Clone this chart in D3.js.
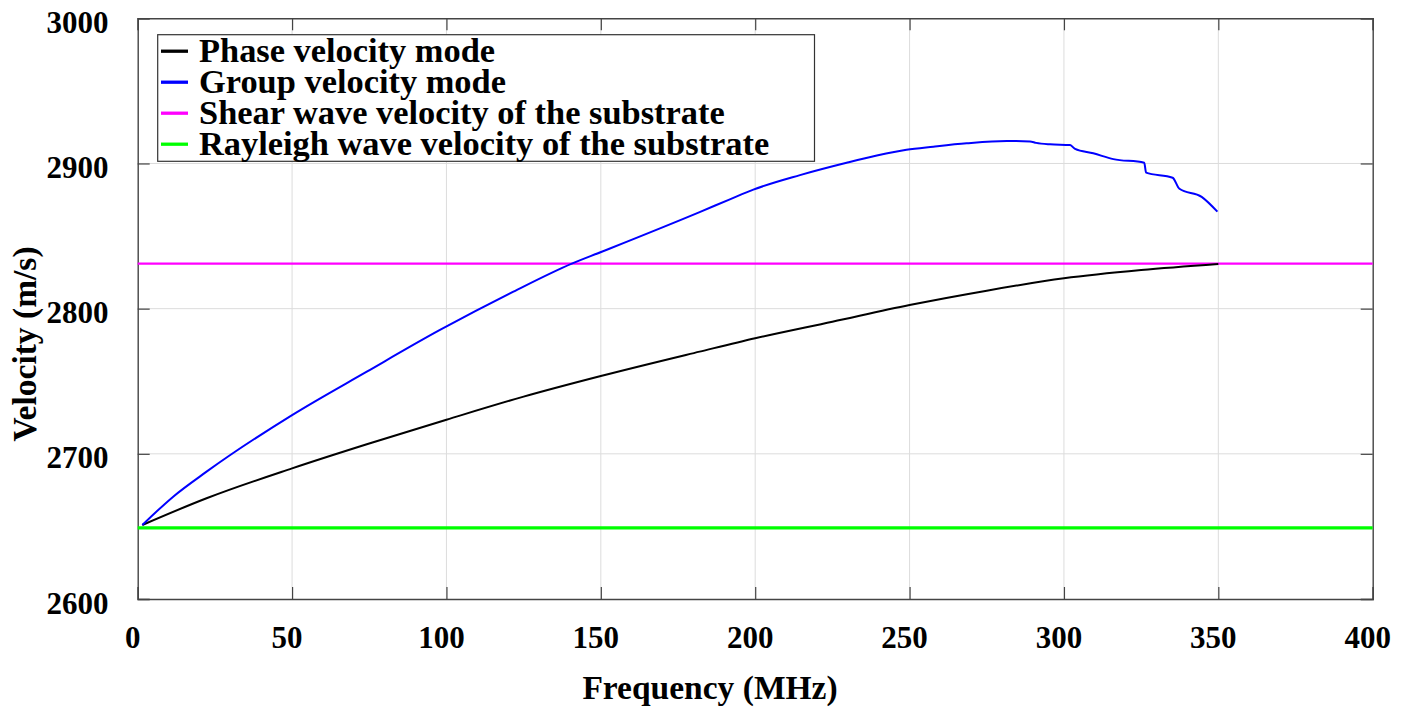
<!DOCTYPE html>
<html>
<head>
<meta charset="utf-8">
<script src="https://cdn.jsdelivr.net/npm/d3@7"></script>
</head>
<body style="margin:0;background:#fff">
<svg id="chart" width="1405" height="707" style="display:block"></svg>
<script>
// ---- data ----
const xTicks = [0, 50, 100, 150, 200, 250, 300, 350, 400];
const yTicks = [2600, 2700, 2800, 2900, 3000];

const phaseFreq = [1.5, 22.3, 50, 74.2, 100, 125, 150, 182, 200, 225, 250, 275, 300, 325, 350];
const phaseVel  = [2651, 2669.4, 2690, 2706.6, 2723.5, 2739.4, 2753.6, 2770.4, 2779.6, 2791, 2802.5, 2812.4, 2820.9, 2826.6, 2830.8];

const groupFreq = [1.5, 11.5, 22.3, 50, 74.2, 97.9, 121.7, 140.6, 150.3, 182, 191.8, 199.4, 214.5, 229.6, 239.4, 249, 257.7, 268.5, 281.5, 289, 291, 295.5, 302, 303.6, 309.5, 316, 326, 326.6, 335.2, 337.4, 344.6, 349.7];
const groupVel  = [2651, 2670.5, 2687.7, 2726.7, 2756.6, 2785.3, 2811.7, 2831, 2839.2, 2866.5, 2875.3, 2882, 2892, 2900.5, 2905.5, 2909.5, 2911.6, 2913.9, 2915.5, 2915.2, 2914.2, 2913.2, 2912.7, 2910, 2907, 2903, 2900.5, 2893.7, 2890.2, 2882.6, 2877, 2866.8];

const shearVel = 2831;
const rayleighVel = 2649;

const legendLabels = ["Phase velocity mode", "Group velocity mode", "Shear wave velocity of the substrate", "Rayleigh wave velocity of the substrate"];
const seriesColors = ["#000000", "#0000ff", "#ff00ff", "#00ff00"];

// ---- layout ----
const L = 137.7, R = 1372.7, T = 18.3, B = 599;
const svg = d3.select("#chart");
const x = d3.scaleLinear().domain([0, 400]).range([L, R]);
const y = d3.scaleLinear().domain([2600, 3000]).range([B, T]);

// grid
const grid = svg.append("g");
grid.selectAll("line.vx").data(xTicks.slice(1, -1)).join("line")
  .attr("x1", d => x(d)).attr("x2", d => x(d)).attr("y1", T).attr("y2", B)
  .attr("stroke", "#dcdcdc").attr("stroke-width", 1);
grid.selectAll("line.hy").data(yTicks.slice(1, -1)).join("line")
  .attr("y1", d => y(d)).attr("y2", d => y(d)).attr("x1", L).attr("x2", R)
  .attr("stroke", "#dcdcdc").attr("stroke-width", 1);

// axes with inward ticks on all sides
const tickLen = 12;
const axisColor = "#444";
const axB = svg.append("g").attr("transform", `translate(0,${B})`)
  .call(d3.axisBottom(x).tickValues(xTicks).tickSize(-tickLen).tickFormat(""));
const axT = svg.append("g").attr("transform", `translate(0,${T})`)
  .call(d3.axisTop(x).tickValues(xTicks).tickSize(-tickLen).tickFormat(""));
const axL = svg.append("g").attr("transform", `translate(${L},0)`)
  .call(d3.axisLeft(y).tickValues(yTicks).tickSize(-tickLen).tickFormat(""));
const axR = svg.append("g").attr("transform", `translate(${R},0)`)
  .call(d3.axisRight(y).tickValues(yTicks).tickSize(-tickLen).tickFormat(""));
[axB, axT, axL, axR].forEach(a => {
  a.selectAll("path").attr("stroke", axisColor).attr("stroke-width", 1.4);
  a.selectAll("line").attr("stroke", axisColor).attr("stroke-width", 1.2);
  a.selectAll("text").remove();
  a.attr("font-family", null).attr("font-size", null);
});

function serif(sel) {
  return sel.attr("font-family", "'Liberation Serif'").attr("font-weight", "bold")
    .style("font-family", "'Liberation Serif'").style("font-weight", "bold").attr("fill", "#000");
}

// tick labels
svg.selectAll("text.xt").data(xTicks).join("text").attr("class", "xt")
  .call(serif)
  .attr("x", d => x(d) - 5).attr("y", B + 49)
  .attr("text-anchor", "middle").attr("font-size", 31)
  .text(d => d);
svg.selectAll("text.yt").data(yTicks).join("text").attr("class", "yt")
  .call(serif)
  .attr("x", 108.5).attr("y", d => y(d) + 14.5)
  .attr("text-anchor", "end").attr("font-size", 31)
  .text(d => d);

// axis titles
svg.append("text").call(serif).attr("x", 710).attr("y", 699)
  .attr("text-anchor", "middle").attr("font-size", 33.5).text("Frequency (MHz)");
svg.append("text").call(serif).attr("transform", "translate(36,344) rotate(-90)")
  .attr("text-anchor", "middle").attr("font-size", 33.5).text("Velocity (m/s)");

// reference lines
svg.append("line").attr("x1", L).attr("x2", R).attr("y1", y(rayleighVel)).attr("y2", y(rayleighVel))
  .attr("stroke", seriesColors[3]).attr("stroke-width", 3.2);
svg.append("line").attr("x1", L).attr("x2", R).attr("y1", y(shearVel)).attr("y2", y(shearVel))
  .attr("stroke", seriesColors[2]).attr("stroke-width", 2.2);

// curves
const phaseData = phaseFreq.map((f, i) => [f, phaseVel[i]]);
const groupData = groupFreq.map((f, i) => [f, groupVel[i]]);
svg.append("path").datum(phaseData)
  .attr("d", d3.line().x(d => x(d[0])).y(d => y(d[1])).curve(d3.curveMonotoneX))
  .attr("fill", "none").attr("stroke", seriesColors[0]).attr("stroke-width", 2);
svg.append("path").datum(groupData)
  .attr("d", d3.line().x(d => x(d[0])).y(d => y(d[1])).curve(d3.curveMonotoneX))
  .attr("fill", "none").attr("stroke", seriesColors[1]).attr("stroke-width", 2);

// legend
svg.append("rect").attr("x", 157.7).attr("y", 34.7).attr("width", 656.8).attr("height", 126.6)
  .attr("fill", "#fff").attr("stroke", "#333").attr("stroke-width", 1.2);
legendLabels.forEach((lab, i) => {
  const by = 61.7 + i * 31;
  svg.append("line").attr("x1", 161).attr("x2", 188).attr("y1", by - 10.5).attr("y2", by - 10.5)
    .attr("stroke", seriesColors[i]).attr("stroke-width", 3.3);
  svg.append("text").call(serif).attr("x", 199).attr("y", by).attr("font-size", 34.4).text(lab);
});
</script>
</body>
</html>
